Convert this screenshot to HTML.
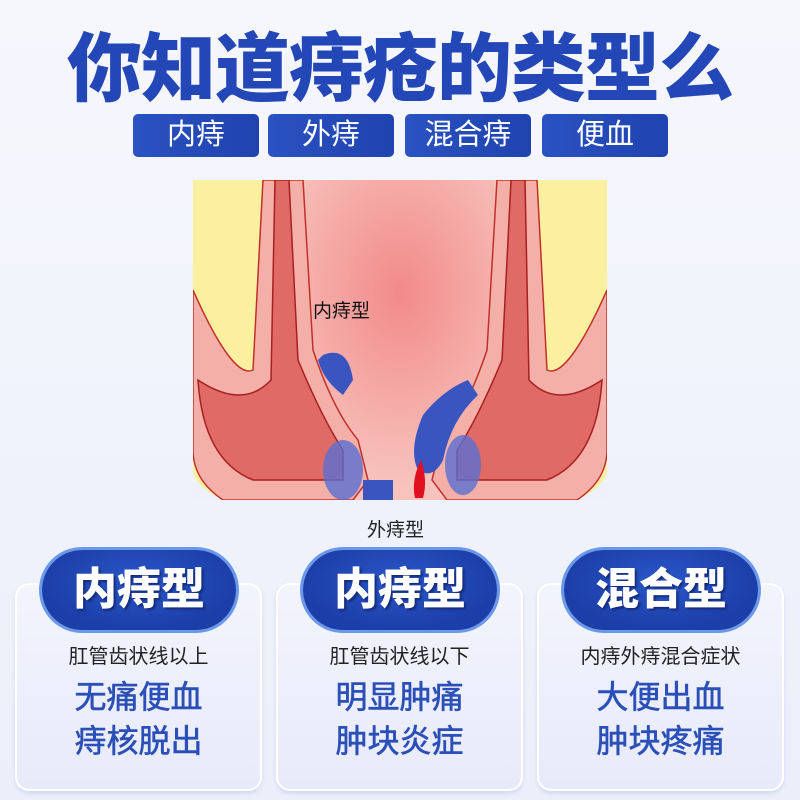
<!DOCTYPE html>
<html><head><meta charset="utf-8"><style>
body{margin:0;width:800px;height:800px;overflow:hidden;background:linear-gradient(#f6f7fd,#eceffa);font-family:"Liberation Sans","Noto Sans CJK SC",sans-serif;position:relative}
.t{position:absolute;left:0;width:800px;top:24px;text-align:center;font-size:75px;font-weight:900;color:#2447b8;letter-spacing:-1px;line-height:90px}
.tab{position:absolute;top:114px;height:43px;width:126px;background:linear-gradient(90deg,#2a52c0,#1f43b0);border-radius:5px;color:#fff;font-size:29px;text-align:center;line-height:43px}
.card{position:absolute;top:583px;height:208px;width:247px;background:linear-gradient(#f3f4fd,#e8eafa);border-radius:14px;box-shadow:0 3px 4px #d5d9f0, inset 0 0 0 2px #fff}
.pill{position:absolute;top:550px;height:80px;width:194px;border-radius:40px;background:radial-gradient(ellipse at 50% 40%,#2b58c9,#1c3ea8 70%);box-shadow:0 0 0 3px #6a98ea;color:#fff;font-size:44px;font-weight:900;text-align:center;line-height:80px;text-shadow:2px 2px 2px #132b7a}
.sub{position:absolute;top:640px;width:247px;text-align:center;font-size:20px;color:#222}
.b{position:absolute;top:675px;width:247px;text-align:center;font-size:32px;color:#2a50b8;line-height:44px;-webkit-text-stroke:0.6px #2a50b8}
</style></head><body>
<div class="t">你知道痔疮的类型么</div>
<div class="tab" style="left:133px">内痔</div>
<div class="tab" style="left:268px">外痔</div>
<div class="tab" style="left:405px">混合痔</div>
<div class="tab" style="left:542px">便血</div>

<svg style="position:absolute;left:193px;top:180px" width="414" height="320" viewBox="0 0 414 320">
<defs><radialGradient id="g" cx="50%" cy="35%" r="60%"><stop offset="0" stop-color="#f28a8a"/><stop offset="1" stop-color="#f7c3bc"/></radialGradient></defs>
<rect width="414" height="320" fill="#faf0a0"/>
<path d="M0 290 Q0 305 30 320 L0 320Z M414 290 Q414 305 384 320 L414 320Z" fill="#eef0fb"/>
<rect x="90" y="0" width="235" height="320" fill="url(#g)"/>
<path d="M70 0 L110 0 L120 170 Q140 230 165 260 L175 300 L160 320 L30 320 Q0 300 0 270 L0 110 Q40 200 60 190 Z" fill="#f4b0a8" stroke="#c0302a" stroke-width="1.5"/>
<path d="M82 0 L96 0 L105 180 Q130 240 150 270 L150 300 L60 300 Q10 280 5 200 Q50 230 78 200 Z" fill="#e06a66" stroke="#a82020" stroke-width="1.5"/>
<path d="M344 0 L304 0 L294 170 Q274 230 249 260 L239 300 L254 320 L384 320 Q414 300 414 270 L414 110 Q374 200 354 190 Z" fill="#f4b0a8" stroke="#c0302a" stroke-width="1.5"/>
<path d="M332 0 L318 0 L309 180 Q284 240 264 270 L264 300 L354 300 Q404 280 409 200 Q364 230 336 200 Z" fill="#e06a66" stroke="#a82020" stroke-width="1.5"/>
<path d="M130 175 Q155 165 160 200 L150 215 Q130 200 125 180Z" fill="#3a55c0"/>
<path d="M275 200 Q250 210 230 235 Q215 270 225 290 Q240 300 250 280 Q258 240 285 215Z" fill="#3a55c0"/>
<path d="M228 280 Q235 300 230 318 L222 318 Q218 300 228 280Z" fill="#e01020"/>
<ellipse cx="150" cy="290" rx="20" ry="30" fill="#5a6fd0" opacity=".8"/>
<ellipse cx="270" cy="285" rx="18" ry="30" fill="#5a6fd0" opacity=".8"/>
<rect x="170" y="300" width="30" height="20" fill="#3a55c0"/>
</svg>
<div style="position:absolute;left:313px;top:296px;font-size:19px;color:#111">内痔型</div>
<div style="position:absolute;left:367px;top:515px;font-size:19px;color:#222">外痔型</div>

<div class="card" style="left:15px"></div>
<div class="card" style="left:276px"></div>
<div class="card" style="left:537px"></div>
<div class="pill" style="left:42px">内痔型</div>
<div class="pill" style="left:303px">内痔型</div>
<div class="pill" style="left:564px">混合型</div>
<div class="sub" style="left:15px">肛管齿状线以上</div>
<div class="sub" style="left:276px">肛管齿状线以下</div>
<div class="sub" style="left:537px">内痔外痔混合症状</div>
<div class="b" style="left:15px">无痛便血<br>痔核脱出</div>
<div class="b" style="left:276px">明显肿痛<br>肿块炎症</div>
<div class="b" style="left:537px">大便出血<br>肿块疼痛</div>
</body></html>
